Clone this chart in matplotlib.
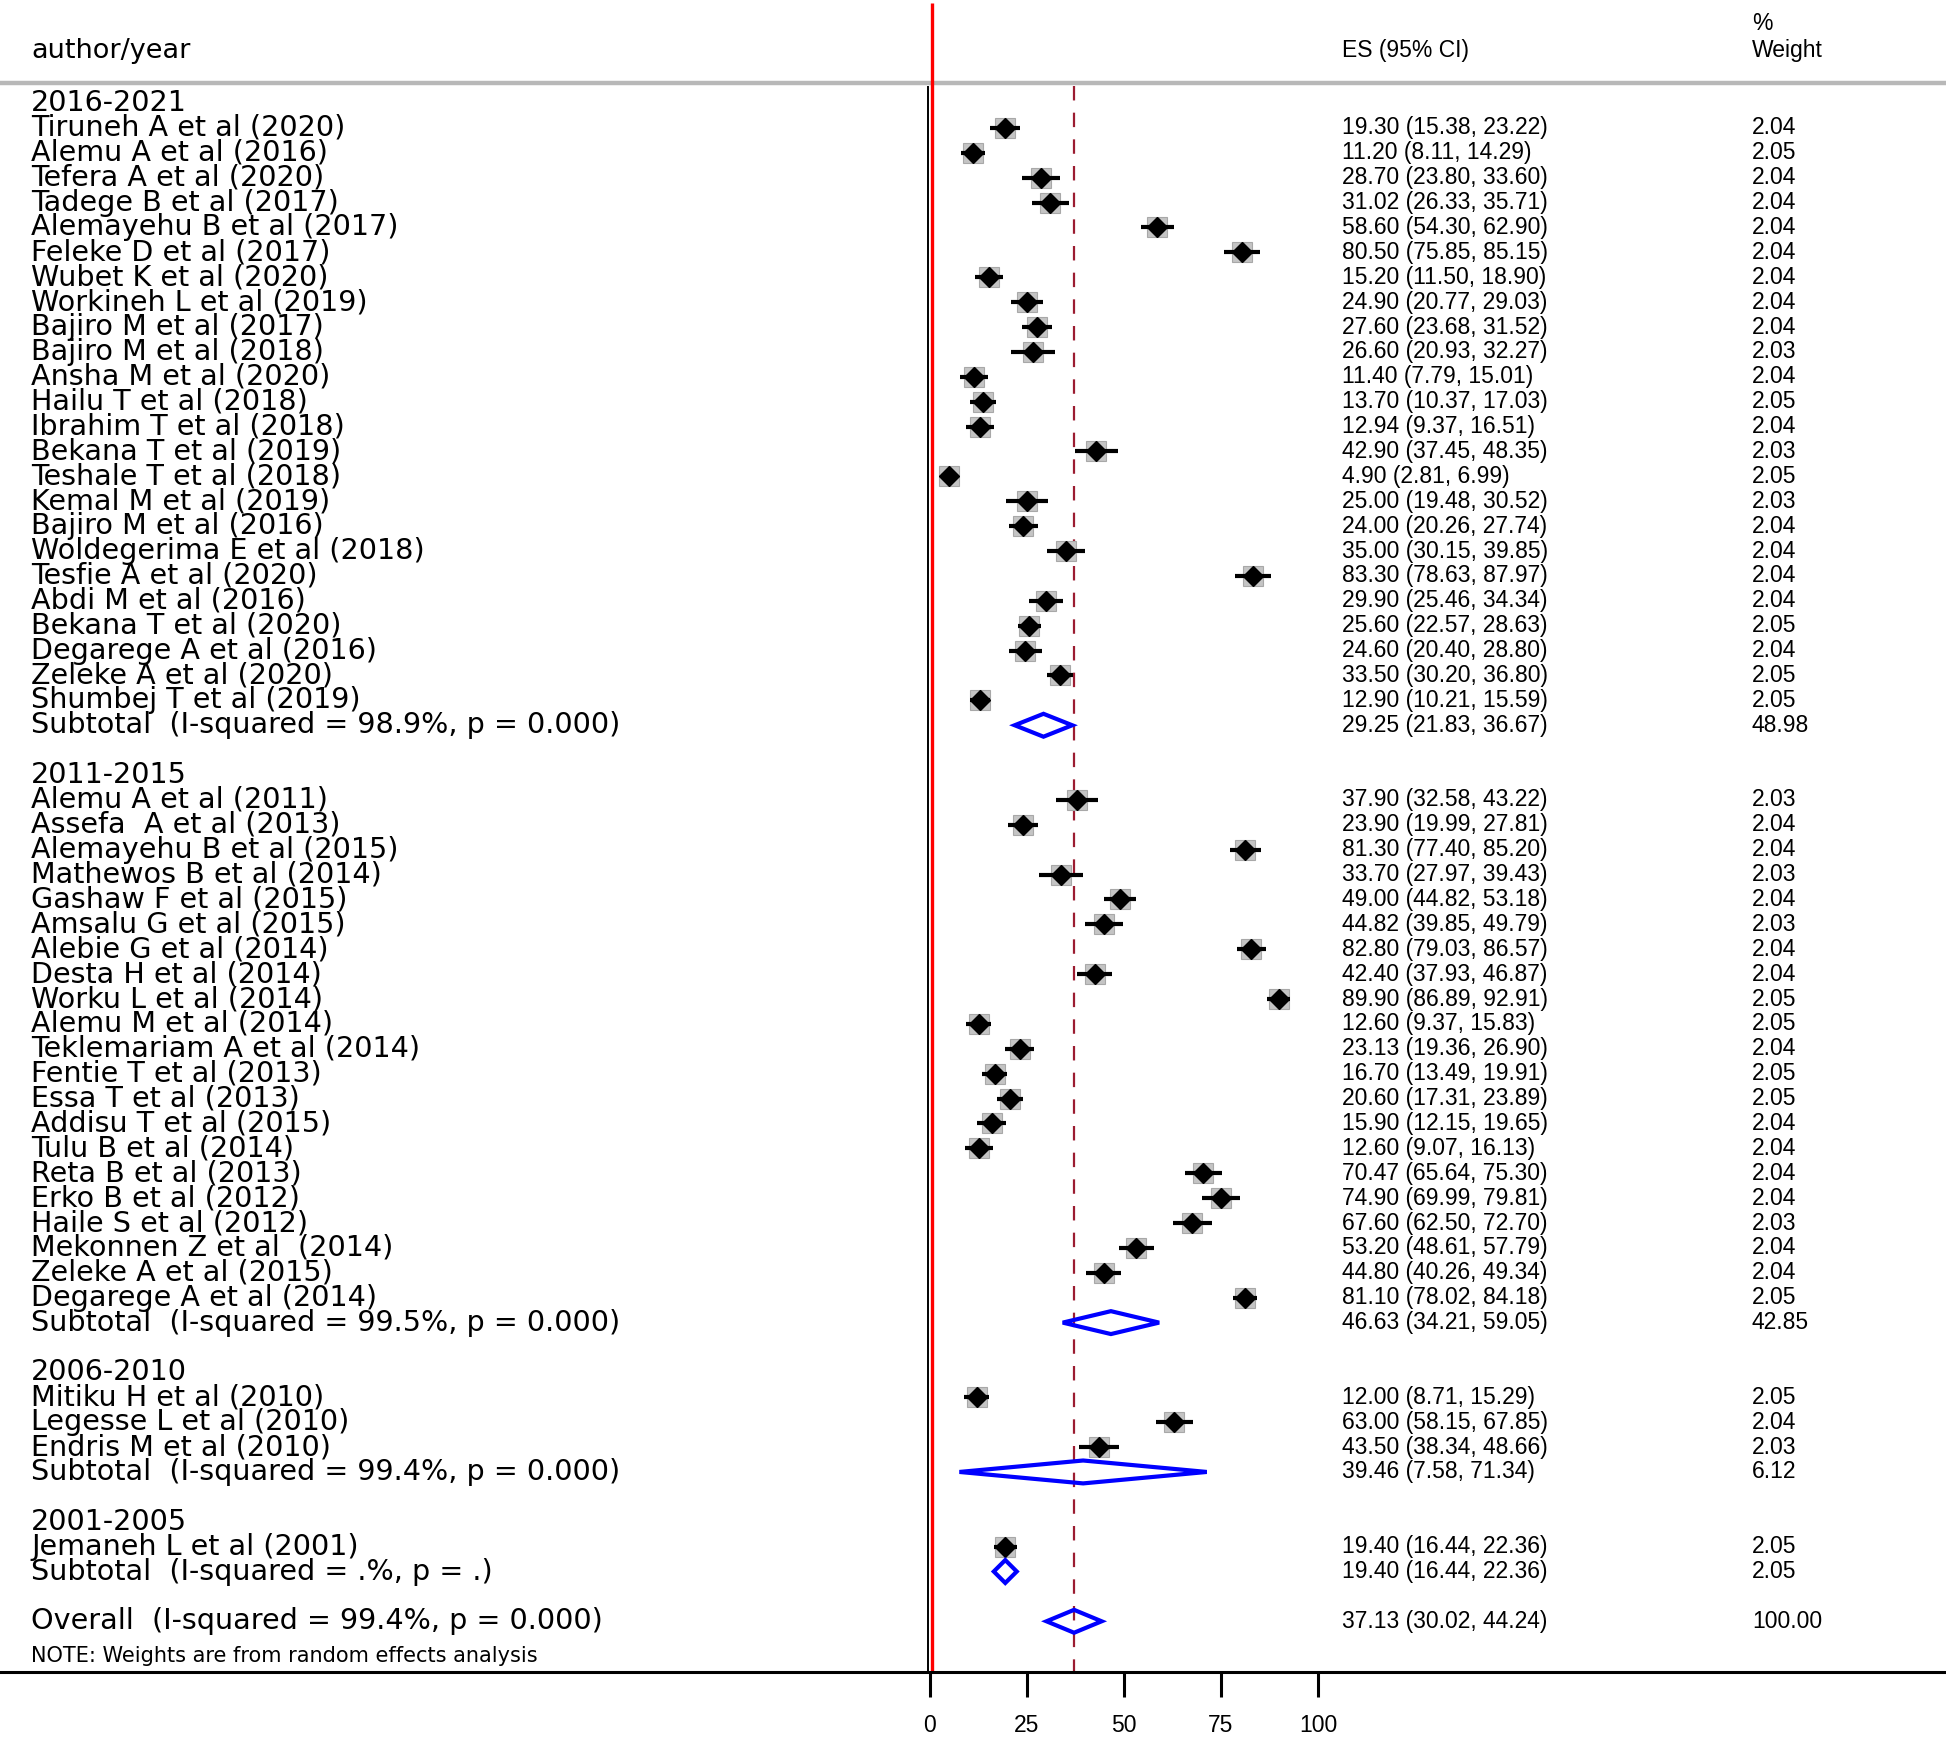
import matplotlib
matplotlib.use("Agg")
import matplotlib.pyplot as plt
from matplotlib.patches import Polygon

# ---- data -------------------------------------------------------------
GROUP_NAMES = ["2016-2021", "2011-2015", "2006-2010", "2001-2005"]
GROUP_SIZES = [24, 21, 3, 1]

STUDY_LABELS = [
    "Tiruneh A et al (2020)", "Alemu A et al (2016)", "Tefera A et al (2020)",
    "Tadege B et al (2017)", "Alemayehu B et al (2017)", "Feleke D et al (2017)",
    "Wubet K et al (2020)", "Workineh L et al (2019)", "Bajiro M et al (2017)",
    "Bajiro M et al (2018)", "Ansha M et al (2020)", "Hailu T et al (2018)",
    "Ibrahim T et al (2018)", "Bekana T et al (2019)", "Teshale T et al (2018)",
    "Kemal M et al (2019)", "Bajiro M et al (2016)", "Woldegerima E et al (2018)",
    "Tesfie A et al (2020)", "Abdi M et al (2016)", "Bekana T et al (2020)",
    "Degarege A et al (2016)", "Zeleke A et al (2020)", "Shumbej T et al (2019)",
    "Alemu A et al (2011)", "Assefa  A et al (2013)", "Alemayehu B et al (2015)",
    "Mathewos B et al (2014)", "Gashaw F et al (2015)", "Amsalu G et al (2015)",
    "Alebie G et al (2014)", "Desta H et al (2014)", "Worku L et al (2014)",
    "Alemu M et al (2014)", "Teklemariam A et al (2014)", "Fentie T et al (2013)",
    "Essa T et al (2013)", "Addisu T et al (2015)", "Tulu B et al (2014)",
    "Reta B et al (2013)", "Erko B et al (2012)", "Haile S et al (2012)",
    "Mekonnen Z et al  (2014)", "Zeleke A et al (2015)", "Degarege A et al (2014)",
    "Mitiku H et al (2010)", "Legesse L et al (2010)", "Endris M et al (2010)",
    "Jemaneh L et al (2001)",
]
STUDY_ES = [
    19.30, 11.20, 28.70, 31.02, 58.60, 80.50, 15.20, 24.90, 27.60, 26.60, 11.40, 13.70,
    12.94, 42.90, 4.90, 25.00, 24.00, 35.00, 83.30, 29.90, 25.60, 24.60, 33.50, 12.90,
    37.90, 23.90, 81.30, 33.70, 49.00, 44.82, 82.80, 42.40, 89.90, 12.60, 23.13, 16.70,
    20.60, 15.90, 12.60, 70.47, 74.90, 67.60, 53.20, 44.80, 81.10,
    12.00, 63.00, 43.50,
    19.40,
]
STUDY_LO = [
    15.38, 8.11, 23.80, 26.33, 54.30, 75.85, 11.50, 20.77, 23.68, 20.93, 7.79, 10.37,
    9.37, 37.45, 2.81, 19.48, 20.26, 30.15, 78.63, 25.46, 22.57, 20.40, 30.20, 10.21,
    32.58, 19.99, 77.40, 27.97, 44.82, 39.85, 79.03, 37.93, 86.89, 9.37, 19.36, 13.49,
    17.31, 12.15, 9.07, 65.64, 69.99, 62.50, 48.61, 40.26, 78.02,
    8.71, 58.15, 38.34,
    16.44,
]
STUDY_HI = [
    23.22, 14.29, 33.60, 35.71, 62.90, 85.15, 18.90, 29.03, 31.52, 32.27, 15.01, 17.03,
    16.51, 48.35, 6.99, 30.52, 27.74, 39.85, 87.97, 34.34, 28.63, 28.80, 36.80, 15.59,
    43.22, 27.81, 85.20, 39.43, 53.18, 49.79, 86.57, 46.87, 92.91, 15.83, 26.90, 19.91,
    23.89, 19.65, 16.13, 75.30, 79.81, 72.70, 57.79, 49.34, 84.18,
    15.29, 67.85, 48.66,
    22.36,
]
STUDY_WEIGHT = [
    2.04, 2.05, 2.04, 2.04, 2.04, 2.04, 2.04, 2.04, 2.04, 2.03, 2.04, 2.05,
    2.04, 2.03, 2.05, 2.03, 2.04, 2.04, 2.04, 2.04, 2.05, 2.04, 2.05, 2.05,
    2.03, 2.04, 2.04, 2.03, 2.04, 2.03, 2.04, 2.04, 2.05, 2.05, 2.04, 2.05,
    2.05, 2.04, 2.04, 2.04, 2.04, 2.03, 2.04, 2.04, 2.05,
    2.05, 2.04, 2.03,
    2.05,
]

SUB_HET = ["I-squared = 98.9%, p = 0.000", "I-squared = 99.5%, p = 0.000",
           "I-squared = 99.4%, p = 0.000", "I-squared = .%, p = ."]
SUB_ES = [29.25, 46.63, 39.46, 19.40]
SUB_LO = [21.83, 34.21, 7.58, 16.44]
SUB_HI = [36.67, 59.05, 71.34, 22.36]
SUB_WEIGHT = [48.98, 42.85, 6.12, 2.05]

OVERALL_HET = "I-squared = 99.4%, p = 0.000"
OVERALL_ES, OVERALL_LO, OVERALL_HI, OVERALL_WEIGHT = 37.13, 30.02, 44.24, 100.00

X_TICKS = [0, 25, 50, 75, 100]

# ---- layout (pixels of the 1946 x 1738 canvas) -------------------------
W, H = 1946, 1738
X0, PX = 930, 3.88          # pixel of effect 0, pixels per unit
ROW0, ROWH = 103, 24.89     # pixel of first row centre, row height


def row_of(py):
    return (py - ROW0) / ROWH


LABEL_FONT = dict(family=["DejaVu Sans"], fontsize=20.6)
COL_FONT = dict(family=["Liberation Sans", "DejaVu Sans"], fontsize=16.5)


def diamond(ax, es, lo, hi, y, h=0.46):
    ax.add_patch(Polygon([(lo, y), (es, y - h), (hi, y), (es, y + h)], closed=True,
                         facecolor="none", edgecolor="#0000ff", linewidth=3.0,
                         joinstyle="miter", zorder=4))


def main():
    fig = plt.figure(figsize=(W / 100, H / 100), dpi=100)
    ax = fig.add_axes([0, 0, 1, 1])
    ax.set_axis_off()
    ax.set_xlim(-X0 / PX, (W - X0) / PX)
    ax.set_ylim(row_of(H), row_of(0))
    tr = ax.get_yaxis_transform()

    x_lab, x_es, x_wt = 31 / W, 1342 / W, 1752 / W

    # headers
    ax.text(x_lab, row_of(51), "author/year", transform=tr, va="center", ha="left",
            family=["DejaVu Sans"], fontsize=19.5)
    ax.text(x_es, row_of(51), "ES (95% CI)", transform=tr, va="center", ha="left", **COL_FONT)
    ax.text(x_wt, row_of(24), "%", transform=tr, va="center", ha="left", **COL_FONT)
    ax.text(x_wt, row_of(51), "Weight", transform=tr, va="center", ha="left", **COL_FONT)
    ax.axhline(row_of(83), color="#b8b8b8", linewidth=3.2, zorder=1)

    # rows
    r = 0
    i = 0
    for g, name in enumerate(GROUP_NAMES):
        ax.text(x_lab, r, name, transform=tr, va="center", ha="left", **LABEL_FONT)
        r += 1
        for _ in range(GROUP_SIZES[g]):
            es, lo, hi = STUDY_ES[i], STUDY_LO[i], STUDY_HI[i]
            ax.plot([es], [r], marker="s", markersize=14, color="#c4c4c4",
                    markeredgecolor="#a8a8a8", markeredgewidth=0.8, zorder=2)
            ax.plot([lo, hi], [r, r], color="black", linewidth=3.0,
                    solid_capstyle="butt", zorder=3)
            ax.plot([es], [r], marker="D", markersize=10, color="black", zorder=4)
            ax.text(x_lab, r, STUDY_LABELS[i], transform=tr, va="center", ha="left",
                    **LABEL_FONT)
            ax.text(x_es, r, f"{es:.2f} ({lo:.2f}, {hi:.2f})", transform=tr,
                    va="center", ha="left", **COL_FONT)
            ax.text(x_wt, r, f"{STUDY_WEIGHT[i]:.2f}", transform=tr, va="center",
                    ha="left", **COL_FONT)
            i += 1
            r += 1
        diamond(ax, SUB_ES[g], SUB_LO[g], SUB_HI[g], r)
        ax.text(x_lab, r, f"Subtotal  ({SUB_HET[g]})", transform=tr, va="center",
                ha="left", **LABEL_FONT)
        ax.text(x_es, r, f"{SUB_ES[g]:.2f} ({SUB_LO[g]:.2f}, {SUB_HI[g]:.2f})",
                transform=tr, va="center", ha="left", **COL_FONT)
        ax.text(x_wt, r, f"{SUB_WEIGHT[g]:.2f}", transform=tr, va="center", ha="left",
                **COL_FONT)
        r += 2

    diamond(ax, OVERALL_ES, OVERALL_LO, OVERALL_HI, r)
    ax.text(x_lab, r, f"Overall  ({OVERALL_HET})", transform=tr, va="center",
            ha="left", **LABEL_FONT)
    ax.text(x_es, r, f"{OVERALL_ES:.2f} ({OVERALL_LO:.2f}, {OVERALL_HI:.2f})",
            transform=tr, va="center", ha="left", **COL_FONT)
    ax.text(x_wt, r, f"{OVERALL_WEIGHT:.2f}", transform=tr, va="center", ha="left",
            **COL_FONT)
    ax.text(x_lab, row_of(1656), "NOTE: Weights are from random effects analysis",
            transform=tr, va="center", ha="left", family=["DejaVu Sans"], fontsize=15)

    # reference lines
    y_axis = row_of(1672)
    ax.vlines(OVERALL_ES, row_of(86), y_axis, color="#9b1c31", linewidth=1.6,
              linestyles=(0, (6.5, 5.5)), zorder=1)
    ax.vlines(-0.5, row_of(86), y_axis, color="black", linewidth=1.4, zorder=5)
    ax.vlines(0.4, row_of(3), y_axis, color="#ff0000", linewidth=2.4, zorder=5)

    # x axis
    ax.axhline(y_axis, color="black", linewidth=2.2, zorder=6)
    ax.vlines(X_TICKS, y_axis, row_of(1697), color="black", linewidth=2.2)
    for t in X_TICKS:
        ax.text(t, row_of(1725), str(t), ha="center", va="center", **COL_FONT)

    fig.savefig("out.png", dpi=100)
    plt.close(fig)


if __name__ == "__main__":
    main()
